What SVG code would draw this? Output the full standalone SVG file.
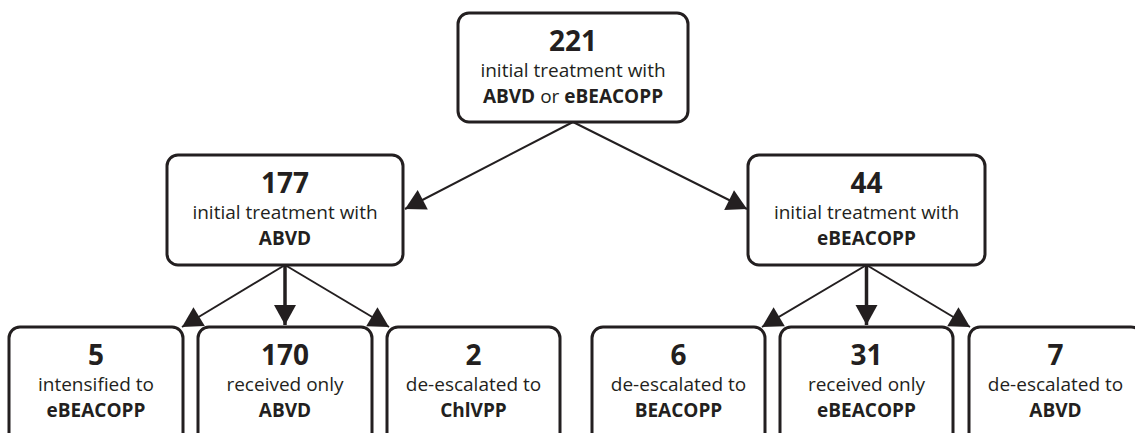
<svg xmlns="http://www.w3.org/2000/svg" width="1135" height="433" viewBox="0 0 1135 433">
<style>
.box{fill:#fff;stroke:#231f20;stroke-width:3}
.t{font-family:"Open Sans","Liberation Sans",sans-serif;fill:#231f20;text-anchor:middle}
.n{font-size:28px;font-weight:bold}
.r{font-size:19px}
.b{font-size:19px;font-weight:bold}
.ln{stroke:#231f20;stroke-width:2;fill:none}
.lv{stroke:#231f20;stroke-width:3.5;fill:none}
</style>
<defs>
<marker id="ah" markerUnits="userSpaceOnUse" markerWidth="22" markerHeight="22" refX="20" refY="11" orient="auto" overflow="visible">
<path d="M0,0 L20,11 L0,22 z" fill="#231f20"/>
</marker>
</defs>
<rect width="1135" height="433" fill="#fff"/>
<g id="connectors">
<line class="ln" x1="573" y1="122" x2="405" y2="209" marker-end="url(#ah)"/>
<line class="ln" x1="573" y1="122" x2="747" y2="209" marker-end="url(#ah)"/>
<line class="ln" x1="285" y1="265" x2="182" y2="327" marker-end="url(#ah)"/>
<line class="lv" x1="285" y1="265" x2="285" y2="325" marker-end="url(#ah)"/>
<line class="ln" x1="285" y1="265" x2="389" y2="327" marker-end="url(#ah)"/>
<line class="ln" x1="866.5" y1="265" x2="762" y2="327" marker-end="url(#ah)"/>
<line class="lv" x1="866.5" y1="265" x2="866.5" y2="325" marker-end="url(#ah)"/>
<line class="ln" x1="866.5" y1="265" x2="970" y2="327" marker-end="url(#ah)"/>
</g>
<g id="n221">
<rect class="box" x="458" y="13" width="230" height="109" rx="11"/>
<text class="t n" x="573" y="51">221</text>
<text class="t r" x="573" y="77">initial treatment with</text>
<text class="t b" x="573" y="103">ABVD <tspan font-weight="normal">or</tspan> eBEACOPP</text>
</g>
<g id="n177">
<rect class="box" x="167" y="155" width="236" height="110" rx="11"/>
<text class="t n" x="285" y="193">177</text>
<text class="t r" x="285" y="219">initial treatment with</text>
<text class="t b" x="285" y="245">ABVD</text>
</g>
<g id="n44">
<rect class="box" x="748" y="155" width="237" height="110" rx="11"/>
<text class="t n" x="866.5" y="193">44</text>
<text class="t r" x="866.5" y="219">initial treatment with</text>
<text class="t b" x="866.5" y="245">eBEACOPP</text>
</g>
<g id="n5">
<rect class="box" x="9" y="327" width="174" height="130" rx="11"/>
<text class="t n" x="96" y="365">5</text>
<text class="t r" x="96" y="391">intensified to</text>
<text class="t b" x="96" y="417">eBEACOPP</text>
</g>
<g id="n170">
<rect class="box" x="198" y="327" width="174" height="130" rx="11"/>
<text class="t n" x="285" y="365">170</text>
<text class="t r" x="285" y="391">received only</text>
<text class="t b" x="285" y="417">ABVD</text>
</g>
<g id="n2">
<rect class="box" x="387" y="327" width="173" height="130" rx="11"/>
<text class="t n" x="473.5" y="365">2</text>
<text class="t r" x="473.5" y="391">de-escalated to</text>
<text class="t b" x="473.5" y="417">ChlVPP</text>
</g>
<g id="n6">
<rect class="box" x="592" y="327" width="173" height="130" rx="11"/>
<text class="t n" x="678.5" y="365">6</text>
<text class="t r" x="678.5" y="391">de-escalated to</text>
<text class="t b" x="678.5" y="417">BEACOPP</text>
</g>
<g id="n31">
<rect class="box" x="780" y="327" width="173" height="130" rx="11"/>
<text class="t n" x="866.5" y="365">31</text>
<text class="t r" x="866.5" y="391">received only</text>
<text class="t b" x="866.5" y="417">eBEACOPP</text>
</g>
<g id="n7">
<rect class="box" x="969" y="327" width="173" height="130" rx="11"/>
<text class="t n" x="1055.5" y="365">7</text>
<text class="t r" x="1055.5" y="391">de-escalated to</text>
<text class="t b" x="1055.5" y="417">ABVD</text>
</g>
</svg>
